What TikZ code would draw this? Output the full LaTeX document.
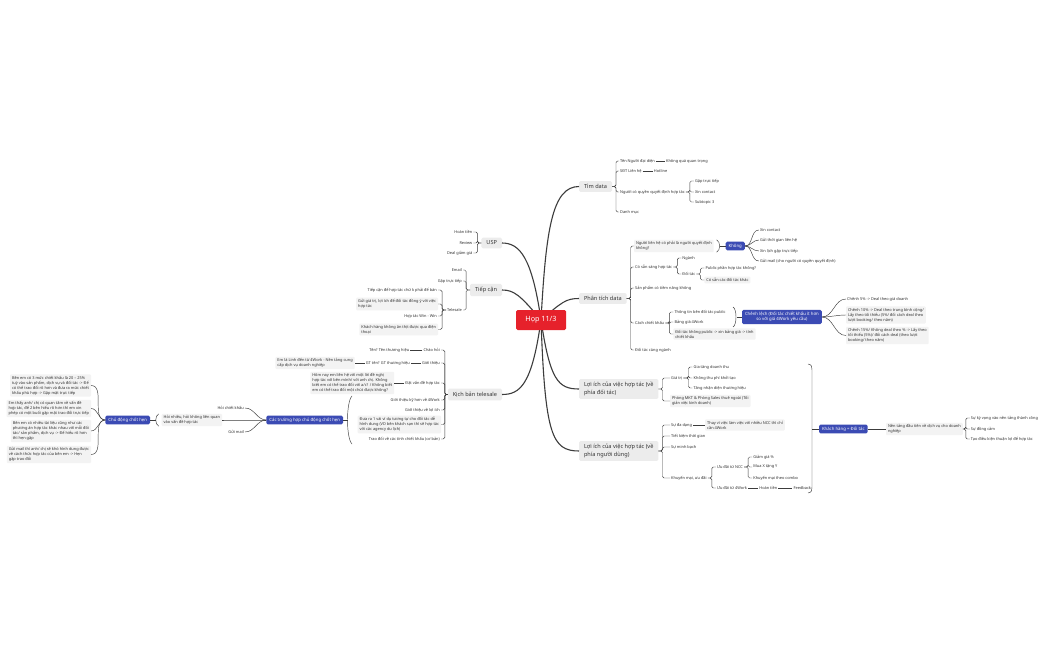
\documentclass[tikz,border=0pt]{standalone}
\usepackage{fontspec}
\setmainfont{Noto Sans}
\usetikzlibrary{calc}
\definecolor{rootred}{RGB}{230,33,43}
\definecolor{hlblue}{RGB}{59,75,180}
\definecolor{maingray}{RGB}{236,236,236}
\definecolor{subgray}{RGB}{243,243,243}
\definecolor{ink}{RGB}{51,51,51}
\definecolor{wire}{RGB}{60,60,60}
\begin{document}
\begin{tikzpicture}[x=1pt,y=-1pt,
  every node/.style={inner sep=0pt, outer sep=0pt},
  rootnode/.style={fill=rootred, text=white, font=\fontsize{7.2}{8}\selectfont\bfseries, rounded corners=1.5pt, minimum width=50pt, minimum height=20pt},
  mainnode/.style={fill=maingray, text=ink, font=\fontsize{5.6}{7.3}\selectfont, rounded corners=1.5pt, inner xsep=5pt, inner ysep=3.2pt, align=left},
  sub/.style={text=ink, font=\fontsize{3.9}{5.0}\selectfont, inner xsep=1.2pt, inner ysep=1.2pt, align=left},
  subbox/.style={sub, fill=subgray, rounded corners=1pt, inner xsep=2pt, inner ysep=1.6pt},
  hl/.style={fill=hlblue, text=white, font=\fontsize{4.3}{5.4}\selectfont\bfseries, rounded corners=1.5pt, inner xsep=3pt, inner ysep=2.2pt, align=center},
  br/.style={draw=wire, line width=0.45pt, rounded corners=1.5pt},
  trunk/.style={draw=wire, line width=1.1pt},
  twig/.style={draw=wire, line width=0.45pt},
]
\useasboundingbox (0,0) rectangle (1050,650);
\fill[white] (0,0) rectangle (1050,650);

% ---------- main topics
\node[mainnode, anchor=west] (tim) at (579,186.5) {Tìm data};
\node[mainnode, anchor=west] (pt) at (579,298.5) {Phân tích data};
\node[mainnode, anchor=west] (lb1) at (579,389) {Lợi ích của việc hợp tác (về\\phía đối tác)};
\node[mainnode, anchor=west] (lb2) at (579,451) {Lợi ích của việc hợp tác (về\\phía người dùng)};
\node[mainnode, anchor=east] (usp) at (502,243) {USP};
\node[mainnode, anchor=east] (tc) at (502,290) {Tiếp cận};
\node[mainnode, anchor=east] (kb) at (502,394.5) {Kịch bản telesale};

\draw[trunk] (541,320) .. controls (546,230) and (552,186.5) .. (tim.west);
\draw[trunk] (541,320) .. controls (562,302) and (566,298.5) .. (pt.west);
\draw[trunk] (541,320) .. controls (550,380) and (558,389) .. (lb1.west);
\draw[trunk] (541,320) .. controls (545,435) and (552,451) .. (lb2.west);
\draw[trunk] (541,320) .. controls (532,258) and (520,243) .. (usp.east);
\draw[trunk] (541,320) .. controls (520,295) and (514,290) .. (tc.east);
\draw[trunk] (541,320) .. controls (532,385) and (520,394.5) .. (kb.east);
\node[rootnode] (root) at (541,320) {Họp 11/3};

% ---------- Tìm data
\node[sub, anchor=west] (t1) at (619,161) {Tên Người đại diện};
\node[sub, anchor=west] (t1a) at ($(t1.east)+(9,0)$) {Không quá quan trọng};
\node[sub, anchor=west] (t2) at (619,171) {SĐT Liên hệ};
\node[sub, anchor=west] (t2a) at ($(t2.east)+(10,0)$) {Hotline};
\node[sub, anchor=west] (t3) at (619,192) {Người có quyền quyết định hợp tác};
\node[sub, anchor=west] (t3a) at ($(t3.east)+(8,-11)$) {Gặp trực tiếp};
\node[sub, anchor=west] (t3b) at ($(t3.east)+(8,0)$) {Xin contact};
\node[sub, anchor=west] (t3c) at ($(t3.east)+(8,10)$) {Subtopic 3};
\node[sub, anchor=west] (t4) at (619,212) {Danh mục};
\foreach \c in {t1,t2,t3,t4} \draw[br] (tim.east) -- ++(4,0) |- (\c.west);
\foreach \c in {t3a,t3b,t3c} \draw[br] (t3.east) -- ++(4,0) |- (\c.west);
\draw[twig] (t1.east) -- (t1a.west);
\draw[twig] (t2.east) -- (t2a.west);

% ---------- Phân tích data
\node[subbox, anchor=west] (p1) at (634,246) {Người liên hệ có phải là người quyết định\\không?};
\draw[twig] ($(p1.north east)+(3,0)$) .. controls +(4,2) and +(4,-2) .. ($(p1.south east)+(3,0)$);
\node[hl, anchor=west] (kg) at ($(p1.east)+(12,0)$) {Không};
\draw[twig] ($(p1.east)+(6,0)$) -- (kg.west);
\node[sub, anchor=west] (k1) at ($(kg.east)+(14,-16)$) {Xin contact};
\node[sub, anchor=west] (k2) at ($(kg.east)+(14,-6)$) {Gửi thời gian liên hệ};
\node[sub, anchor=west] (k3) at ($(kg.east)+(14,5)$) {Xin lịch gặp trực tiếp};
\node[sub, anchor=west] (k4) at ($(kg.east)+(14,15)$) {Gửi mail (cho người có quyền quyết định)};
\foreach \c in {k1,k2,k3,k4} \draw[twig] (kg.east) to[out=0,in=180] (\c.west);

\node[sub, anchor=west] (p2) at (634,267) {Có sẵn sàng hợp tác};
\node[sub, anchor=west] (p2a) at ($(p2.east)+(8,-9)$) {Ngành};
\node[sub, anchor=west] (p2b) at ($(p2.east)+(8,7)$) {Đối tác};
\foreach \c in {p2a,p2b} \draw[br] (p2.east) -- ++(4,0) |- (\c.west);
\node[sub, anchor=west] (p2b1) at ($(p2b.east)+(8,-6)$) {Public phần hợp tác không?};
\node[subbox, anchor=west] (p2b2) at ($(p2b.east)+(8,6)$) {Có sẵn các đối tác khác};
\foreach \c in {p2b1,p2b2} \draw[br] (p2b.east) -- ++(4,0) |- (\c.west);

\node[sub, anchor=west] (p3) at (634,288) {Sản phẩm có tiềm năng không};

\node[sub, anchor=west] (p4) at (634,323) {Cách chiết khấu};
\node[sub, anchor=west] (c1) at ($(p4.east)+(8,-11)$) {Thông tin bên đối tác public};
\node[sub, anchor=west] (c2) at ($(p4.east)+(8,-1)$) {Bảng giá 4Work};
\node[subbox, anchor=west] (c3) at ($(p4.east)+(8,11)$) {Đối tác không public -> xin bảng giá -> tính\\chiết khấu};
\foreach \c in {c1,c2,c3} \draw[br] (p4.east) -- ++(4,0) |- (\c.west);
\draw[twig] (733,307) .. controls (737,309) and (737,325) .. (733,327);
\node[hl, anchor=west] (cl) at (742,317) {Chênh lệch (Đối tác chiết khấu ít hơn\\so với giá 4Work yêu cầu)};
\draw[twig] (736.5,317) -- (cl.west);
\node[sub, anchor=west] (ch1) at (846,299) {Chênh 5\% -> Deal theo giá doanh};
\node[subbox, anchor=west] (ch2) at (846,315) {Chênh 10\% -> Deal theo trung bình cộng/\\Lấy theo tối thiểu (5\%/ đổi cách deal theo\\lượt booking/ theo năm)};
\node[subbox, anchor=west] (ch3) at (846,335.5) {Chênh 15\%/ Không deal theo \% -> Lấy theo\\tối thiểu (5\%)/ đổi cách deal (theo lượt\\booking/ theo năm)};
\foreach \c in {ch1,ch2,ch3} \draw[twig] (cl.east) to[out=0,in=180] (\c.west);

\node[sub, anchor=west] (p5) at (634,350) {Đối tác cùng ngành};
\foreach \c in {p1,p2,p3,p4,p5} \draw[br] (pt.east) -- ++(4,0) |- (\c.west);

% ---------- Lợi ích (đối tác)
\node[sub, anchor=west] (g1) at (670,378) {Giá trị};
\node[sub, anchor=west] (g1a) at ($(g1.east)+(9,-11)$) {Gia tăng doanh thu};
\node[sub, anchor=west] (g1b) at ($(g1.east)+(9,0)$) {Không thu phí khởi tạo};
\node[sub, anchor=west] (g1c) at ($(g1.east)+(9,10)$) {Tăng nhận diện thương hiệu};
\foreach \c in {g1a,g1b,g1c} \draw[br] (g1.east) -- ++(5,0) |- (\c.west);
\node[subbox, anchor=west] (g2) at (670,401) {Phòng MKT \& Phòng Sales thuê ngoài (Tối\\giản việc kinh doanh)};
\foreach \c in {g1,g2} \draw[br] (lb1.east) -- ++(4,0) |- (\c.west);

% ---------- Lợi ích (người dùng)
\node[sub, anchor=west] (u1) at (670,425) {Sự đa dạng};
\node[subbox, anchor=west] (u1a) at ($(u1.east)+(12,0)$) {Thay vì việc làm việc với nhiều NCC thì chỉ\\cần 4Work};
\draw[twig] (u1.east) -- (u1a.west);
\node[sub, anchor=west] (u2) at (670,436) {Tiết kiệm thời gian};
\node[sub, anchor=west] (u3) at (670,447) {Sự minh bạch};
\node[sub, anchor=west] (u4) at (670,478) {Khuyến mại, ưu đãi};
\node[sub, anchor=west] (u4a) at ($(u4.east)+(8,-11)$) {Ưu đãi từ NCC};
\node[sub, anchor=west] (u4b) at ($(u4.east)+(8,10)$) {Ưu đãi từ 4Work};
\foreach \c in {u4a,u4b} \draw[br] (u4.east) -- ++(4,0) |- (\c.west);
\node[sub, anchor=west] (v1) at ($(u4a.east)+(8,-10)$) {Giảm giá \%};
\node[sub, anchor=west] (v2) at ($(u4a.east)+(8,0)$) {Mua X tặng Y};
\node[sub, anchor=west] (v3) at ($(u4a.east)+(8,11)$) {Khuyến mại theo combo};
\foreach \c in {v1,v2,v3} \draw[br] (u4a.east) -- ++(4,0) |- (\c.west);
\node[sub, anchor=west] (w1) at ($(u4b.east)+(10,0)$) {Hoàn tiền};
\node[sub, anchor=west] (w2) at ($(w1.east)+(14,0)$) {Feedback};
\draw[twig] (u4b.east) -- (w1.west);
\draw[twig] (w1.east) -- (w2.west);
\foreach \c in {u1,u2,u3,u4} \draw[br] (lb2.east) -- ++(4,0) |- (\c.west);

% ---------- summary: Khách hàng = Đối tác
\draw[twig] (808,364) .. controls (811.5,365) .. (812,370) -- (812,487) .. controls (811.5,492) .. (808,493);
\node[hl, anchor=west] (kh) at (819,429) {Khách hàng = Đối tác};
\draw[twig] (812,429) -- (kh.west);
\node[subbox, anchor=west] (kh1) at (886,429) {Nền tảng đầu tiên về dịch vụ cho doanh\\nghiệp};
\draw[twig] (kh.east) -- (kh1.west);
\node[sub, anchor=west] (kh1a) at ($(kh1.east)+(7,-11)$) {Sự kỳ vọng vào nền tảng thành công};
\node[sub, anchor=west] (kh1b) at ($(kh1.east)+(7,0)$) {Sự đồng cảm};
\node[sub, anchor=west] (kh1c) at ($(kh1.east)+(7,10)$) {Tạo điều kiện thuận lợi để hợp tác};
\foreach \c in {kh1a,kh1b,kh1c} \draw[br] (kh1.east) -- ++(3,0) |- (\c.west);

% ---------- USP
\node[sub, anchor=east] (s1) at ($(usp.west)+(-8,-11)$) {Hoàn tiền};
\node[sub, anchor=east] (s2) at ($(usp.west)+(-8,0)$) {Review};
\node[sub, anchor=east] (s3) at ($(usp.west)+(-8,10)$) {Deal giảm giá};
\foreach \c in {s1,s2,s3} \draw[br] (usp.west) -- ++(-4,0) |- (\c.east);

% ---------- Tiếp cận
\node[sub, anchor=east] (a1) at (463,270) {Email};
\node[sub, anchor=east] (a2) at (463,281) {Gặp trực tiếp};
\node[sub, anchor=east] (a3) at (463,310) {Telesale};
\foreach \c in {a1,a2,a3} \draw[br] (tc.west) -- ++(-4,0) |- (\c.east);
\node[sub, anchor=east] (e1) at ($(a3.west)+(-8,-20)$) {Tiếp cận để hợp tác chứ k phải để bán};
\node[subbox, anchor=east] (e2) at ($(a3.west)+(-8,-6)$) {Gửi giá trị, lợi ích để đối tác đồng ý với việc\\hợp tác};
\node[sub, anchor=east] (e3) at ($(a3.west)+(-8,6)$) {Hợp tác Win - Win};
\node[subbox, anchor=east] (e4) at ($(a3.west)+(-8,19.5)$) {Khách hàng không ăn thịt được qua điện\\thoại};
\foreach \c in {e1,e2,e3,e4} \draw[br] (a3.west) -- ++(-4,0) |- (\c.east);

% ---------- Kịch bản telesale
\node[sub, anchor=east] (q1) at (441,350) {Chào hỏi};
\node[sub, anchor=east] (q1a) at ($(q1.west)+(-12,0)$) {Tên? Tên thương hiệu};
\draw[twig] (q1.west) -- (q1a.east);
\node[sub, anchor=east] (q2) at (441,363) {Giới thiệu};
\node[sub, anchor=east] (q2a) at ($(q2.west)+(-10,0)$) {GT tên? GT thương hiệu};
\node[subbox, anchor=east] (q2b) at ($(q2a.west)+(-10,0)$) {Em là Linh đến từ 4Work - Nền tảng cung\\cấp dịch vụ doanh nghiệp};
\draw[twig] (q2.west) -- (q2a.east);
\draw[twig] (q2a.west) -- (q2b.east);
\node[sub, anchor=east] (q3) at (441,383) {Đặt vấn đề hợp tác};
\node[subbox, anchor=east] (q3a) at ($(q3.west)+(-10,0)$) {Hôm nay em liên hệ với một lời đề nghị\\hợp tác với bên mình/ với anh chị. Không\\biết em có thể trao đổi với a/c? / Không biết\\em có thể trao đổi một chút được không?};
\draw[twig] (q3.west) -- (q3a.east);
\node[sub, anchor=east] (q4) at (441,400) {Giới thiệu kỹ hơn về 4Work};
\node[sub, anchor=east] (q5) at (441,410) {Giới thiệu về lợi ích};
\node[subbox, anchor=east] (q6) at (441,424.5) {Đưa ra 1 vài ví dụ tương tự cho đối tác dễ\\hình dung (VD bên khách sạn thì sẽ hợp tác\\với các agency du lịch)};
\node[sub, anchor=east] (q7) at (441,439) {Trao đổi về các tính chiết khấu (cơ bản)};
\foreach \c in {q1,q2,q3,q4,q5,q6,q7} \draw[br] (kb.west) -- ++(-3,0) |- (\c.east);

% brace over q4..q7
\draw[twig] (352,396) .. controls (346,402) and (346,438) .. (352,444);
\node[hl, anchor=east] (ct) at (343,420) {Các trường hợp chủ động chốt hẹn};
\draw[twig] (347.5,420) -- (ct.east);
\node[sub, anchor=east] (h1) at (245,408) {Hỏi chiết khấu};
\node[subbox, anchor=east] (h2) at (222,420) {Hỏi nhiều, hỏi không liên quan\\vào vấn đề hợp tác};
\node[sub, anchor=east] (h3) at (245,432) {Gửi mail};
\foreach \c in {h1,h2,h3} \draw[twig] (ct.west) to[out=180,in=0] (\c.east);

% brace on h2 -> Chủ động chốt hẹn
\draw[twig] ($(h2.north west)+(-3,0)$) .. controls +(-4,2) and +(-4,-2) .. ($(h2.south west)+(-3,0)$);
\node[hl, anchor=east] (cd) at (150,420) {Chủ động chốt hẹn};
\draw[twig] ($(h2.west)+(-6,0)$) -- (cd.east);
\node[subbox, anchor=east] (r1) at (91,385.5) {Bên em có 3 mức chiết khấu là 20 – 25\%\\tuỳ vào sản phẩm, dịch vụ và đối tác -> Để\\có thể trao đổi rõ hơn và đưa ra mức chiết\\khấu phù hợp -> Gặp mặt trực tiếp};
\node[subbox, anchor=east] (r2) at (91,408.5) {Em thấy anh/ chị có quan tâm về vấn đề\\hợp tác, để 2 bên hiểu rõ hơn thì em xin\\phép có một buổi gặp mặt trao đổi trực tiếp};
\node[subbox, anchor=east] (r3) at (91,431) {Bên em có nhiều tài liệu cũng như các\\phương án hợp tác khác nhau với mỗi đối\\tác/ sản phẩm, dịch vụ -> Để hiểu rõ hơn\\thì hẹn gặp};
\node[subbox, anchor=east] (r4) at (91,454.5) {Gửi mail thì anh/ chị sẽ khó hình dung được\\về cách thức hợp tác của bên em -> Hẹn\\gặp trao đổi};
\foreach \c in {r1,r2,r3,r4} \draw[twig] (cd.west) to[out=180,in=0] (\c.east);
\end{tikzpicture}
\end{document}
